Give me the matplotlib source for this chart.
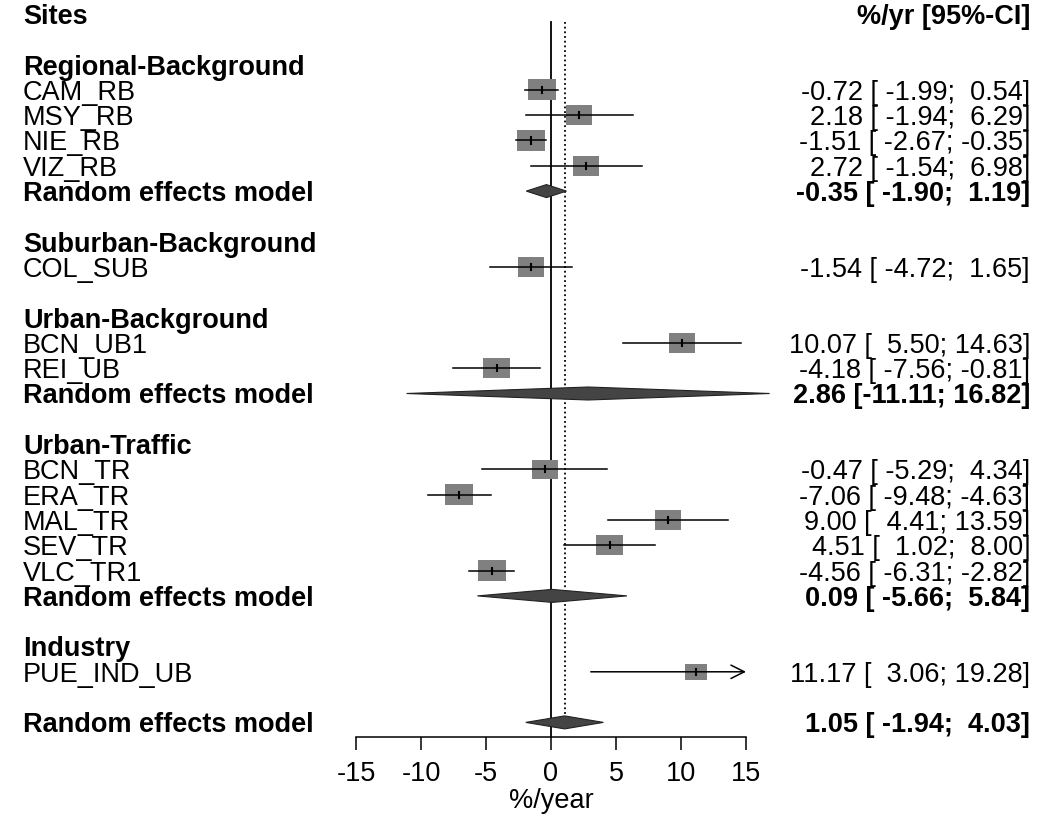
import matplotlib
matplotlib.use('Agg')
import matplotlib.pyplot as plt
from matplotlib.patches import Rectangle, Polygon
from matplotlib.transforms import blended_transform_factory

plt.rcParams['font.family'] = ['Liberation Sans', 'DejaVu Sans']

# Trend per site (%/yr) with 95% CI, grouped by site type
groups = ['Regional-Background', 'Suburban-Background', 'Urban-Background',
          'Urban-Traffic', 'Industry']
sites = ['CAM_RB', 'MSY_RB', 'NIE_RB', 'VIZ_RB',
         'COL_SUB',
         'BCN_UB1', 'REI_UB',
         'BCN_TR', 'ERA_TR', 'MAL_TR', 'SEV_TR', 'VLC_TR1',
         'PUE_IND_UB']
site_group = [0, 0, 0, 0, 1, 2, 2, 3, 3, 3, 3, 3, 4]
site_est = [-0.72, 2.18, -1.51, 2.72, -1.54, 10.07, -4.18,
            -0.47, -7.06, 9.00, 4.51, -4.56, 11.17]
site_lo = [-1.99, -1.94, -2.67, -1.54, -4.72, 5.50, -7.56,
           -5.29, -9.48, 4.41, 1.02, -6.31, 3.06]
site_hi = [0.54, 6.29, -0.35, 6.98, 1.65, 14.63, -0.81,
           4.34, -4.63, 13.59, 8.00, -2.82, 19.28]
site_weight = [8.0, 6.9, 8.0, 6.9, 7.4, 6.9, 7.4, 6.9, 8.0, 6.9, 7.4, 8.0, 4.9]

# Random effects model per group (None where a group has one site)
group_est = [-0.35, None, 2.86, 0.09, None]
group_lo = [-1.90, None, -11.11, -5.66, None]
group_hi = [1.19, None, 16.82, 5.84, None]

overall_est, overall_lo, overall_hi = 1.05, -1.94, 4.03

W, H = 1059, 815
fig = plt.figure(figsize=(W / 100, H / 100), dpi=100)
ax_l, ax_r, ax_top, ax_bot = 356, 746, 0, 737
ax = fig.add_axes([ax_l / W, (H - ax_bot) / H, (ax_r - ax_l) / W, (ax_bot - ax_top) / H])

row0, row_px = 14, 25.3
ax.set_xlim(-15, 15)
ax.set_ylim((ax_bot - row0) / row_px, (ax_top - row0) / row_px)
px_x = (ax_r - ax_l) / 30.0

FS = 19.5
left = blended_transform_factory(fig.transFigure, ax.transData)
x_lab, x_val = 23 / W, 1030 / W


def fmt(e, lo, hi):
    return f"{e:.2f} [{lo:6.2f};{hi:6.2f}]"


def label_row(r, name, value=None, bold=False):
    w = 'bold' if bold else 'normal'
    ax.text(x_lab, r, name, transform=left, ha='left', va='center_baseline',
            fontsize=FS, fontweight=w, clip_on=False)
    if value is not None:
        ax.text(x_val, r, value, transform=left, ha='right', va='center_baseline',
                fontsize=FS, fontweight=w, clip_on=False)


def diamond(r, e, lo, hi):
    h = 6.5 / row_px
    ax.add_patch(Polygon([(lo, r), (e, r - h), (hi, r), (e, r + h)], closed=True,
                         facecolor='#444444', edgecolor='#222222', lw=0.8,
                         clip_on=False, zorder=4))


def study(r, e, lo, hi, wt):
    wpx = 28 * (wt / 8.0) ** 0.5
    bw, bh = wpx / px_x, 0.75 * wpx / row_px
    ax.add_patch(Rectangle((e - bw / 2, r - bh / 2), bw, bh, facecolor='#808080',
                           edgecolor='none', zorder=3))
    if hi > 15:
        ax.annotate('', xy=(15, r), xytext=(lo, r), annotation_clip=False,
                    arrowprops=dict(arrowstyle='->,head_length=0.6,head_width=0.3',
                                    lw=1.1, color='black',
                                    mutation_scale=16, shrinkA=0, shrinkB=0),
                    zorder=5)
    else:
        ax.plot([lo, hi], [r, r], color='black', lw=1.1, zorder=5)
    ax.plot([e, e], [r - 0.12, r + 0.12], color='black', lw=1.5, zorder=6)


# header
label_row(0, 'Sites', '%/yr [95%-CI]', bold=True)

r = 2
for g, gname in enumerate(groups):
    label_row(r, gname, bold=True)
    r += 1
    for i, s in enumerate(sites):
        if site_group[i] != g:
            continue
        study(r, site_est[i], site_lo[i], site_hi[i], site_weight[i])
        label_row(r, s, fmt(site_est[i], site_lo[i], site_hi[i]))
        r += 1
    if group_est[g] is not None:
        diamond(r, group_est[g], group_lo[g], group_hi[g])
        label_row(r, 'Random effects model',
                  fmt(group_est[g], group_lo[g], group_hi[g]), bold=True)
        r += 1
    r += 1

diamond(r, overall_est, overall_lo, overall_hi)
label_row(r, 'Random effects model', fmt(overall_est, overall_lo, overall_hi), bold=True)

# reference lines: no effect and pooled estimate
y_top = (22 - row0) / row_px
ax.plot([0, 0], [y_top, ax.get_ylim()[0]], color='black', lw=1.3, zorder=2, clip_on=False)
ax.plot([overall_est, overall_est], [y_top, r], color='black', lw=1.3,
        linestyle=(0, (1, 1.6)), zorder=2)

for side in ['top', 'left', 'right']:
    ax.spines[side].set_visible(False)
ax.spines['bottom'].set_linewidth(1.1)
ax.set_yticks([])
ax.set_xticks([-15, -10, -5, 0, 5, 10, 15])
ax.set_xticklabels(['-15', '-10', '-5', '0', '5', '10', '15'])
ax.tick_params(axis='x', length=9.5, width=1.1, labelsize=FS, pad=8)
fig.text(551 / W, 1 - 801 / H, '%/year', ha='center', va='center', fontsize=FS)

plt.savefig('out.png', dpi=100)
